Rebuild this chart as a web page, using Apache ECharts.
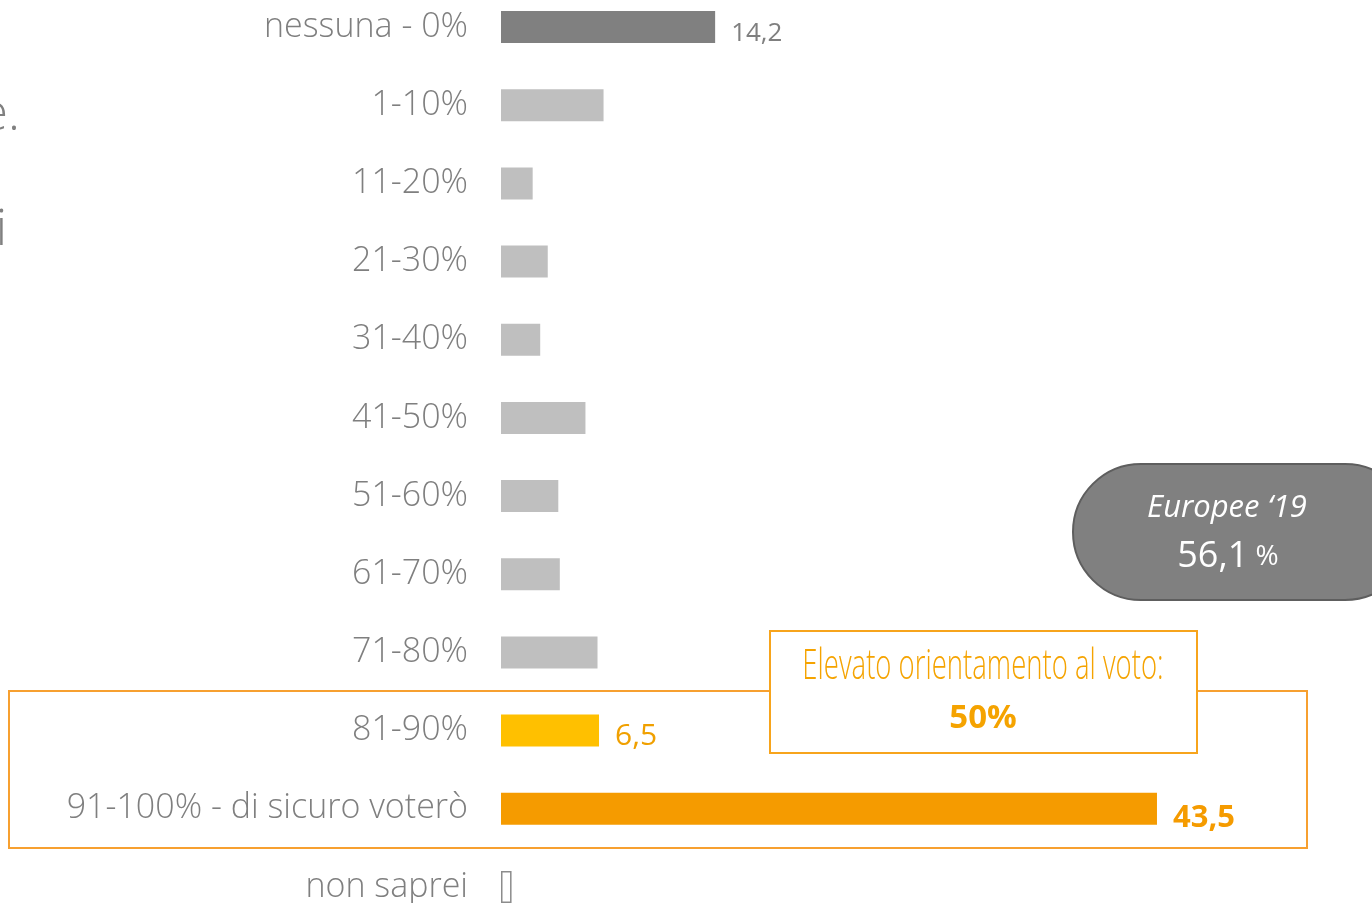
<!DOCTYPE html>
<html>
<head>
<meta charset="utf-8">
<script src="https://cdn.jsdelivr.net/npm/echarts@6/dist/echarts.min.js"></script>
<style>
  html, body { margin: 0; padding: 0; background: #fff; overflow: hidden; }
  /* plot is taller than the window: first and last rows are clipped like in the source slide */
  #main { width: 1372px; height: 938px; margin-top: -12px; }
</style>
</head>
<body>
<div id="main"></div>
<script>
(function(){
  // categories, top to bottom
  var categories = ["nessuna - 0%", "1-10%", "11-20%", "21-30%", "31-40%", "41-50%",
                    "51-60%", "61-70%", "71-80%", "81-90%", "91-100% - di sicuro voterò", "non saprei"];
  // values (only three are printed)
  var values = [14.2, 6.8, 2.1, 3.1, 2.6, 5.6, 3.8, 3.9, 6.4, 6.5, 43.5, 0.7];
  var barColors = ["#808080", "#bfbfbf", "#bfbfbf", "#bfbfbf", "#bfbfbf", "#bfbfbf",
                   "#bfbfbf", "#bfbfbf", "#bfbfbf", "#ffc000", "#f59b00", "#ffffff"];
  var shownLabels = { 0: "14,2", 9: "6,5", 10: "43,5" };
  var labelColors = { 0: "#7f7f7f", 9: "#f0a000", 10: "#f59b00" };
  var labelSizes = { 0: 26, 9: 30, 10: 31 };
  var labelDrop = { 0: 7, 9: 6, 10: 9 };

  var europeeTitle = "Europee \u201819";
  var europeeValue = "56,1";
  var boxTitle = "Elevato orientamento al voto:";
  var boxValue = "50%";

  var labelFont = "'Open Sans', 'DejaVu Sans', sans-serif";
  var OFF = 12; // div is shifted up by 12px
  function py(y) { return y + OFF; }

  var seriesData = [];
  for (var i = 0; i < values.length; i++) {
    var item = {
      value: values[i],
      itemStyle: { color: barColors[i] }
    };
    if (i === values.length - 1) {
      item.itemStyle.borderColor = "#8c8c8c";
      item.itemStyle.borderWidth = 1.5;
    }
    if (shownLabels[i] !== undefined) {
      item.label = {
        show: true,
        position: "right",
        distance: 16,
        offset: [0, labelDrop[i]],
        formatter: shownLabels[i],
        color: labelColors[i],
        fontSize: labelSizes[i],
        fontWeight: i === 10 ? "bold" : "normal",
        fontFamily: "'Open Sans', sans-serif"
      };
    }
    seriesData.push(item);
  }

  var chart = echarts.init(document.getElementById("main"));
  chart.setOption({
    backgroundColor: "#ffffff",
    animation: false,
    grid: { left: 501, right: 117, top: 0, bottom: 0, containLabel: false },
    xAxis: {
      type: "value", min: 0, max: 50,
      show: false
    },
    yAxis: {
      type: "category",
      inverse: true,
      data: categories,
      axisLine: { show: false },
      axisTick: { show: false },
      axisLabel: {
        margin: 33,
        color: "#7f7f7f",
        fontSize: 34,
        fontWeight: 300,
        fontFamily: labelFont
      }
    },
    series: [{
      type: "bar",
      barWidth: 32,
      data: seriesData,
      z: 3
    }],
    graphic: [
      // cropped text at the left border
      { type: "text", x: 20, y: py(116), z: 1,
        style: { text: "e.", fill: "#808080", align: "right", verticalAlign: "middle",
                 font: "300 50px 'Open Sans', sans-serif" } },
      { type: "text", x: 7, y: py(231), z: 1,
        style: { text: "i", fill: "#808080", align: "right", verticalAlign: "middle",
                 font: "300 50px 'Open Sans', sans-serif" } },
      // highlight frame around the top two answers
      { type: "rect", z: 1,
        shape: { x: 9, y: py(691), width: 1298, height: 157 },
        style: { fill: null, stroke: "#f7a030", lineWidth: 2 } },
      // callout box
      { type: "rect", z: 10,
        shape: { x: 770, y: py(631), width: 427, height: 122 },
        style: { fill: "#ffffff", stroke: "#f7a41c", lineWidth: 2 } },
      { type: "text", z: 11, x: 983, y: py(667), scaleX: 0.64,
        style: { text: boxTitle, fill: "#f5a300", align: "center", verticalAlign: "middle",
                 font: "300 43px 'Open Sans', sans-serif" } },
      { type: "text", z: 11, x: 983, y: py(719),
        style: { text: boxValue, fill: "#f5a300", align: "center", verticalAlign: "middle",
                 font: "bold 33px 'Open Sans', sans-serif" } },
      // Europee '19 pill
      { type: "rect", z: 10,
        shape: { x: 1073, y: py(464), width: 340, height: 136, r: 68 },
        style: { fill: "#808080", stroke: "#5e5e5e", lineWidth: 2 } },
      { type: "text", z: 11, x: 1227, y: py(508),
        style: { text: europeeTitle, fill: "#ffffff", align: "center", verticalAlign: "middle",
                 font: "italic 31px 'Open Sans', sans-serif" } },
      { type: "text", z: 11, x: 1228, y: py(557),
        style: { rich: {
                   a: { fill: "#ffffff", font: "36px 'Open Sans', sans-serif" },
                   b: { fill: "#ffffff", font: "28px 'Open Sans', sans-serif" }
                 },
                 text: "{a|" + europeeValue + "}{b| %}",
                 align: "center", verticalAlign: "middle" } }
    ]
  });
})();
</script>
</body>
</html>
